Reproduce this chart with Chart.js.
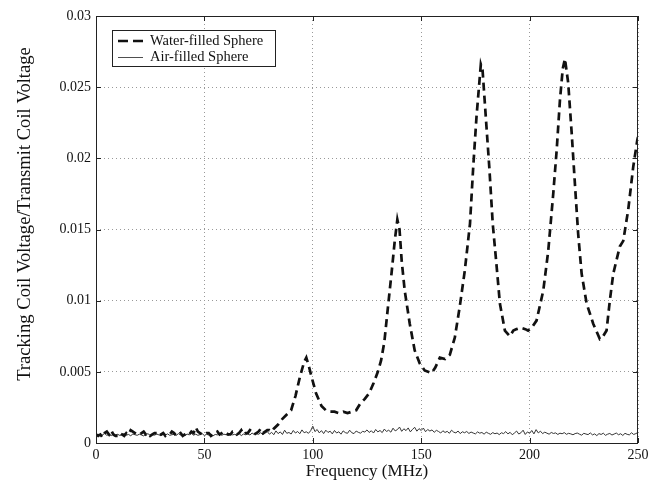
<!DOCTYPE html>
<html><head><meta charset="utf-8">
<script src="https://cdn.jsdelivr.net/npm/chart.js@4/dist/chart.umd.min.js"></script>
<style>html,body{margin:0;padding:0;background:#fff}canvas{display:block}</style>
</head><body>
<canvas id="c" width="660" height="480"></canvas>
<script>
// ---- data ----
const seriesNames = ['Water-filled Sphere', 'Air-filled Sphere'];
const xTitle = 'Frequency (MHz)';
const yTitle = 'Tracking Coil Voltage/Transmit Coil Voltage';
const xTickValues = [0, 50, 100, 150, 200, 250];
const xTickLabels = ['0', '50', '100', '150', '200', '250'];
const yTickValues = [0, 0.005, 0.01, 0.015, 0.02, 0.025, 0.03];
const yTickLabels = ['0', '0.005', '0.01', '0.015', '0.02', '0.025', '0.03'];

const waterFreq = [0,1,2,3,4,5,6,7,8,9,10,11,12,13,14,15,16,17,18,19,20,21,22,23,24,25,26,27,28,29,30,31,32,33,34,35,36,37,38,39,
  40,41,42,43,44,45,46,47,48,49,50,51,52,53,54,55,56,57,58,59,60,61,62,63,64,65,66,67,68,69,70,71,72,73,74,75,76,77,78,79,80,81,
  82,84,86,88,90,92,94,96,97,98,99.5,101.5,104,106,108,110,112,114,116,118,120,122,124,126,128,130,131.5,133,134.7,136.3,137.8,139,
  140,141,142.4,144.7,147,149.3,151.6,154.8,156.5,158.6,161,163.2,165.5,167.8,170.1,172.5,174,175.5,177.5,178.3,179.8,181.4,183,184.8,186.3,188.6,190.9,
  192.5,194,196,198,199.3,201,203.2,206.3,208.6,210.9,212.5,214,215.3,216.3,217.8,219.4,220.9,222.4,224,226.3,229.3,232.4,233.5,235.5,237,238.6,241.6,243.2,245.5,247.8,249.7,250];
const waterVal = [0.0006,0.0005,0.0006,0.0004,0.0007,0.0008,0.0006,0.0009,0.0006,0.0005,0.0005,0.0007,0.0006,0.0005,0.0007,0.0006,0.0009,0.0008,0.0007,0.0006,
  0.0006,0.0007,0.0008,0.0006,0.0007,0.0005,0.0006,0.0007,0.0007,0.0005,0.0006,0.0007,0.0005,0.0006,0.0006,0.0008,0.0007,0.0005,0.0006,0.0007,
  0.0005,0.0006,0.0007,0.0006,0.0008,0.0007,0.0011,0.0008,0.0007,0.0006,0.0006,0.0007,0.0007,0.0005,0.0006,0.0007,0.0008,0.0006,0.0007,0.0008,
  0.0007,0.0006,0.0006,0.0008,0.0008,0.0006,0.0007,0.0009,0.0006,0.0007,0.0007,0.0009,0.0008,0.0006,0.0007,0.0008,0.0010,0.0007,0.0008,0.0009,0.0009,0.0008,
  0.0010,0.0013,0.0017,0.0020,0.0023,0.0033,0.0046,0.0057,0.0060,0.0055,0.0046,0.0035,0.0026,0.0023,0.0022,0.0022,0.0021,0.0022,0.0021,0.0022,0.0023,0.0028,0.0031,0.0035,0.0042,0.0050,0.0058,0.0071,0.0096,0.0119,0.0142,0.0157,
  0.0150,0.0128,0.0107,0.0084,0.0065,0.0056,0.0051,0.0049,0.0053,0.0060,0.0059,0.0062,0.0074,0.0096,0.0121,0.0154,0.0194,0.0229,0.0266,0.0262,0.0229,0.0194,0.0154,0.0124,0.0098,0.0079,0.0075,
  0.0079,0.0080,0.0081,0.0080,0.0079,0.0081,0.0086,0.0107,0.0135,0.0175,0.0206,0.0241,0.0263,0.0270,0.0253,0.0218,0.0182,0.0147,0.0119,0.0098,0.0084,0.0073,0.0074,0.0079,0.0100,0.0119,0.0138,0.0142,0.0164,0.0194,0.0213,0.0215];

const airFreq = [];
for (let f = 0; f <= 250; f++) airFreq.push(f);
const airVal = [
  0.00055,0.00062,0.00050,0.00058,0.00066,0.00054,0.00060,0.00052,0.00064,0.00057,
  0.00061,0.00053,0.00059,0.00067,0.00055,0.00060,0.00051,0.00063,0.00058,0.00054,
  0.00062,0.00056,0.00050,0.00061,0.00065,0.00053,0.00059,0.00055,0.00063,0.00057,
  0.00052,0.00060,0.00056,0.00064,0.00054,0.00058,0.00061,0.00053,0.00066,0.00056,
  0.00060,0.00052,0.00063,0.00057,0.00068,0.00055,0.00062,0.00054,0.00059,0.00065,
  0.00053,0.00061,0.00056,0.00064,0.00051,0.00060,0.00057,0.00066,0.00054,0.00062,
  0.00058,0.00053,0.00065,0.00057,0.00061,0.00055,0.00067,0.00052,0.00063,0.00058,
  0.00064,0.00056,0.00070,0.00059,0.00066,0.00061,0.00073,0.00058,0.00069,0.00080,
  0.00062,0.00075,0.00058,0.00085,0.00066,0.00078,0.00060,0.00090,0.00068,0.00074,
  0.00063,0.00088,0.00070,0.00081,0.00065,0.00092,0.00072,0.00079,0.00068,0.00086,
  0.00118,0.00080,0.00095,0.00071,0.00087,0.00066,0.00090,0.00074,0.00083,0.00064,
  0.00088,0.00070,0.00079,0.00062,0.00085,0.00073,0.00068,0.00090,0.00072,0.00066,
  0.00084,0.00075,0.00069,0.00082,0.00077,0.00092,0.00074,0.00086,0.00070,0.00095,
  0.00078,0.00088,0.00073,0.00098,0.00081,0.00090,0.00076,0.00104,0.00085,0.00094,
  0.00112,0.00082,0.00100,0.00087,0.00106,0.00078,0.00096,0.00110,0.00083,0.00101,
  0.00088,0.00105,0.00079,0.00095,0.00084,0.00092,0.00075,0.00089,0.00081,0.00070,
  0.00086,0.00074,0.00082,0.00068,0.00090,0.00076,0.00071,0.00084,0.00066,0.00079,
  0.00072,0.00081,0.00067,0.00077,0.00070,0.00064,0.00078,0.00069,0.00074,0.00062,
  0.00076,0.00068,0.00061,0.00073,0.00065,0.00070,0.00059,0.00072,0.00066,0.00080,
  0.00064,0.00075,0.00058,0.00070,0.00084,0.00063,0.00072,0.00090,0.00060,0.00078,
  0.00068,0.00088,0.00064,0.00094,0.00071,0.00083,0.00066,0.00076,0.00069,0.00062,
  0.00074,0.00067,0.00071,0.00060,0.00069,0.00065,0.00073,0.00061,0.00068,0.00064,
  0.00058,0.00066,0.00070,0.00062,0.00055,0.00068,0.00063,0.00059,0.00071,0.00057,
  0.00064,0.00052,0.00066,0.00060,0.00069,0.00054,0.00062,0.00067,0.00056,0.00063,
  0.00070,0.00058,0.00065,0.00053,0.00068,0.00061,0.00057,0.00072,0.00060,0.00066,
  0.00074];

// ---- chart ----
const FONT = 'Liberation Serif, Times New Roman, serif';
const toXY = (xs, ys) => xs.map((x, i) => ({x: x, y: ys[i]}));

const decor = {
  id: 'decor',
  afterDatasetsDraw(chart) {
    const ctx = chart.ctx, a = chart.chartArea;
    const xs = chart.scales.x, ys = chart.scales.y;
    ctx.save();
    // frame
    ctx.strokeStyle = '#222'; ctx.lineWidth = 1; ctx.setLineDash([]);
    ctx.strokeRect(a.left + 0.5, a.top + 0.5, a.right - a.left - 1, a.bottom - a.top);
    // inward ticks
    ctx.beginPath();
    xTickValues.forEach(v => {
      const px = Math.round(xs.getPixelForValue(v)) + 0.5;
      ctx.moveTo(px, a.bottom); ctx.lineTo(px, a.bottom - 5);
      ctx.moveTo(px, a.top); ctx.lineTo(px, a.top + 5);
    });
    yTickValues.forEach(v => {
      const py = Math.round(ys.getPixelForValue(v)) + 0.5;
      ctx.moveTo(a.left, py); ctx.lineTo(a.left + 5, py);
      ctx.moveTo(a.right, py); ctx.lineTo(a.right - 5, py);
    });
    ctx.stroke();
    // legend
    ctx.fillStyle = '#fff';
    ctx.fillRect(112, 30, 163, 36);
    ctx.strokeStyle = '#222'; ctx.lineWidth = 1;
    ctx.strokeRect(112.5, 30.5, 163, 36);
    ctx.beginPath(); ctx.setLineDash([10, 5]); ctx.lineWidth = 2.6; ctx.strokeStyle = '#111';
    ctx.moveTo(118, 41); ctx.lineTo(143, 41); ctx.stroke();
    ctx.beginPath(); ctx.setLineDash([]); ctx.lineWidth = 0.8; ctx.strokeStyle = '#222';
    ctx.moveTo(118, 57.5); ctx.lineTo(143, 57.5); ctx.stroke();
    ctx.fillStyle = '#111';
    ctx.font = '14.5px ' + FONT;
    ctx.textAlign = 'left'; ctx.textBaseline = 'middle';
    ctx.fillText(seriesNames[0], 150, 41);
    ctx.fillText(seriesNames[1], 150, 57);
    // axis titles
    ctx.font = '17px ' + FONT;
    ctx.textAlign = 'center'; ctx.textBaseline = 'alphabetic';
    ctx.fillText(xTitle, (a.left + a.right) / 2, 476);
    ctx.save();
    ctx.translate(30, 214);
    ctx.rotate(-Math.PI / 2);
    ctx.font = '18.6px ' + FONT;
    ctx.fillText(yTitle, 0, 0);
    ctx.restore();
    ctx.restore();
  }
};

new Chart(document.getElementById('c'), {
  type: 'line',
  data: {
    datasets: [
      {label: seriesNames[0], data: toXY(waterFreq, waterVal), borderColor: '#111', borderWidth: 2.7,
       borderDash: [8, 5], pointRadius: 0, tension: 0, fill: false},
      {label: seriesNames[1], data: toXY(airFreq, airVal), borderColor: '#333', borderWidth: 1,
       pointRadius: 0, tension: 0, fill: false}
    ]
  },
  options: {
    responsive: false, animation: false, devicePixelRatio: 1,
    layout: {padding: {left: 0, right: 22, top: 16, bottom: 0}},
    plugins: {legend: {display: false}, tooltip: {enabled: false}},
    scales: {
      x: {
        type: 'linear', min: 0, max: 250,
        afterBuildTicks: s => { s.ticks = xTickValues.map(v => ({value: v})); },
        afterFit: s => { s.height = 37; },
        ticks: {color: '#111', font: {family: FONT, size: 14}, padding: 4, maxRotation: 0,
                callback: v => xTickLabels[xTickValues.indexOf(v)]},
        grid: {color: '#999', lineWidth: 1, drawTicks: false},
        border: {display: false, dash: [1, 3]}
      },
      y: {
        type: 'linear', min: 0, max: 0.03,
        afterBuildTicks: s => { s.ticks = yTickValues.map(v => ({value: v})); },
        afterFit: s => { s.width = 96; },
        ticks: {color: '#111', font: {family: FONT, size: 14}, padding: 5,
                callback: v => yTickLabels[yTickValues.indexOf(v)]},
        grid: {color: '#999', lineWidth: 1, drawTicks: false},
        border: {display: false, dash: [1, 3]}
      }
    }
  },
  plugins: [decor]
});
</script>
</body></html>
